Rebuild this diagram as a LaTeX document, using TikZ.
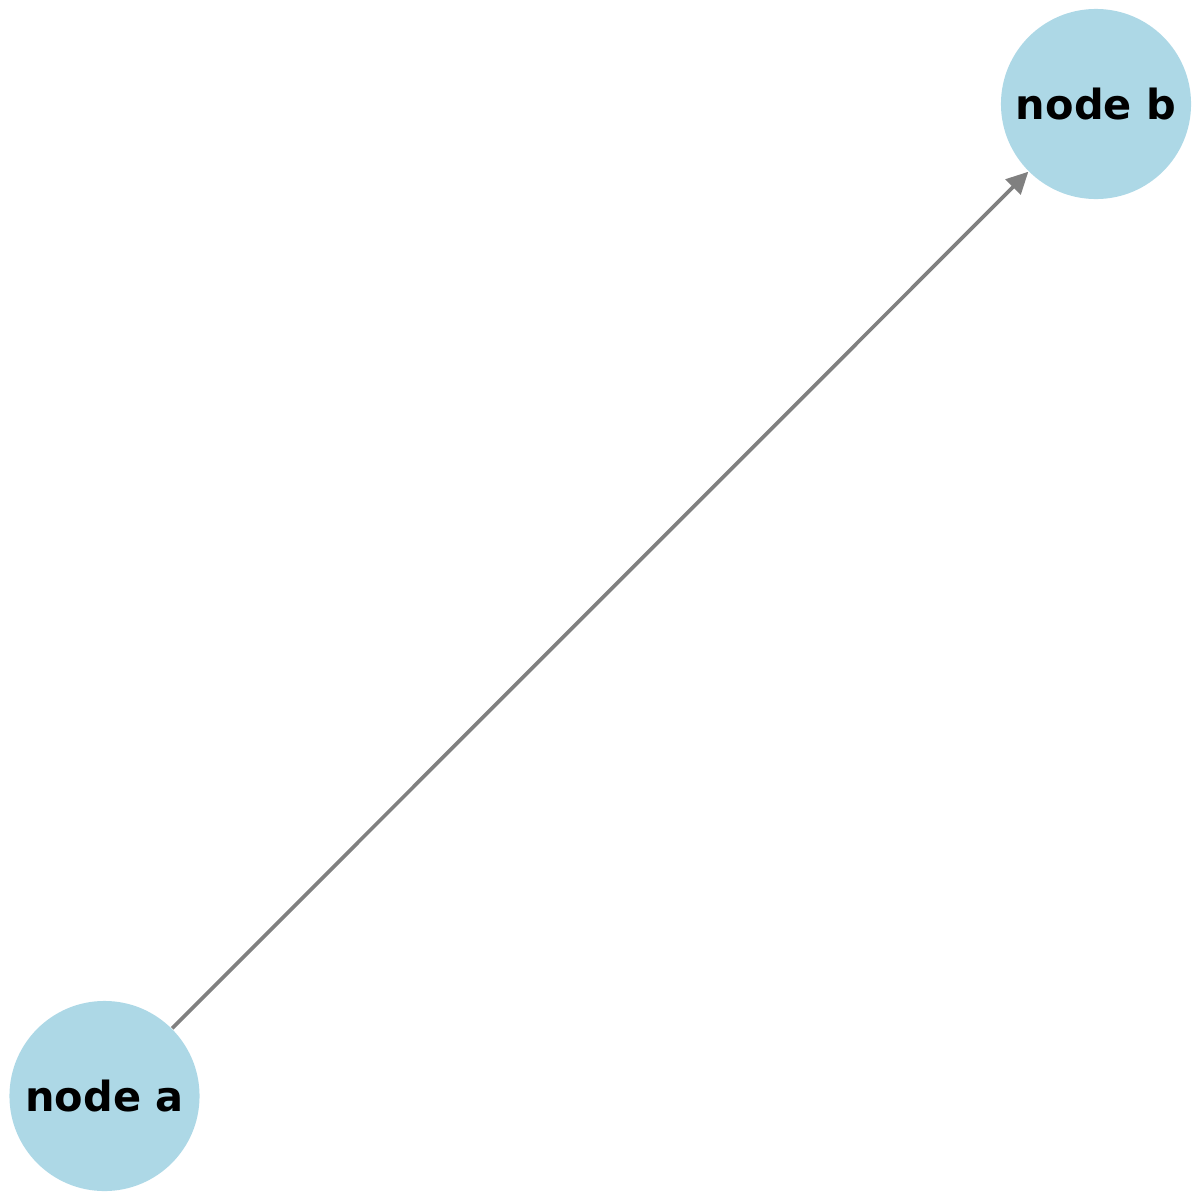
\documentclass[tikz,border=0pt]{standalone}
\usepackage{fontspec}
\setmainfont{DejaVu Sans}
\usetikzlibrary{arrows.meta}
\definecolor{nodeblue}{RGB}{173,216,230}
\definecolor{edgegray}{RGB}{128,128,128}
\begin{document}
\begin{tikzpicture}[x=0.01cm,y=-0.01cm,
  gnode/.style={circle,fill=nodeblue,draw=none,minimum size=1.9cm,inner sep=0pt,
    font=\fontsize{11.8pt}{13pt}\selectfont\bfseries},
  gedge/.style={draw=edgegray,line width=1.05pt,-{Triangle[length=6.2pt,width=6pt]}}]
\path[use as bounding box] (0,0) rectangle (1200,1200);
\node[gnode] (a) at (104.5,1096) {node a};
\node[gnode] (b) at (1096,104) {node b};
\draw[gedge] (a) -- (b);
\end{tikzpicture}
\end{document}
